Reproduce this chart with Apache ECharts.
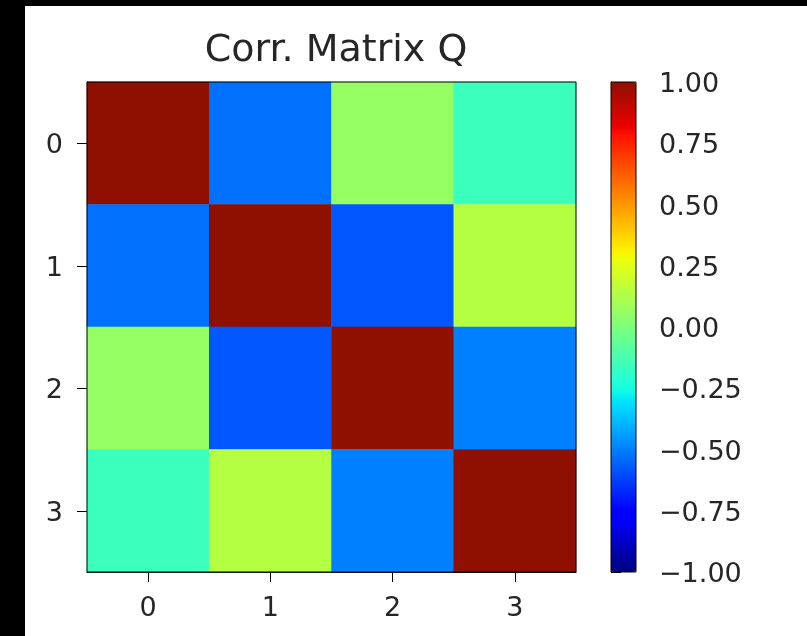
<!DOCTYPE html>
<html>
<head>
<meta charset="utf-8">
<script src="https://cdn.jsdelivr.net/npm/echarts@6/dist/echarts.min.js"></script>
<style>
html,body{margin:0;padding:0;background:#000;width:807px;height:636px;overflow:hidden;}
#chart{position:absolute;left:25px;top:6px;width:782px;height:630px;background:#fff;}
</style>
</head>
<body>
<div id="chart"></div>
<script>
// ---- data ----
const title = 'Corr. Matrix Q';
const xCategories = ['0', '1', '2', '3'];
const yCategories = ['0', '1', '2', '3'];
const row0 = [1.00, -0.53, 0.06, -0.16];
const row1 = [-0.53, 1.00, -0.58, 0.14];
const row2 = [0.06, -0.58, 1.00, -0.50];
const row3 = [-0.16, 0.14, -0.50, 1.00];
const rows = [row0, row1, row2, row3];
const colorbarMin = -1;
const colorbarMax = 1;
const colorbarStep = 0.25;

// ---- jet colormap (matplotlib segment data) ----
function interp(seg, t) {
  for (let i = 0; i < seg.length - 1; i++) {
    const a = seg[i], b = seg[i + 1];
    if (t >= a[0] && t <= b[0]) {
      return a[1] + (b[1] - a[1]) * (t - a[0]) / (b[0] - a[0]);
    }
  }
  return seg[seg.length - 1][1];
}
const jetR = [[0,0],[0.35,0],[0.66,1],[0.89,1],[1,0.56]];
const jetG = [[0,0],[0.125,0],[0.375,1],[0.64,1],[0.91,0],[1,0.06]];
const jetB = [[0,0.5],[0.11,1],[0.34,1],[0.65,0],[1,0]];
const jetColors = [];
for (let i = 0; i <= 100; i++) {
  const t = i / 100;
  const r = Math.round(interp(jetR, t) * 255);
  const g = Math.round(interp(jetG, t) * 255);
  const b = Math.round(interp(jetB, t) * 255);
  jetColors.push('rgb(' + r + ',' + g + ',' + b + ')');
}

const heatData = [];
rows.forEach((row, yi) => row.forEach((v, xi) => heatData.push([xi, yi, v])));

const textColor = '#262626';
const font = 'DejaVu Sans';
const fmt = v => '{t|' + (v < 0 ? '\u2212' : '') + Math.abs(v).toFixed(2) + '}';
const richT = { t: { fontFamily: font, fontSize: 27, color: textColor, padding: [6, 0, 0, 0] } };

const chart = echarts.init(document.getElementById('chart'));
chart.setOption({
  animation: false,
  backgroundColor: '#fff',
  title: {
    text: title,
    left: 306,
    top: 21,
    textAlign: 'center',
    textStyle: { fontFamily: font, fontSize: 38, fontWeight: 'normal', color: textColor }
  },
  grid: [
    { left: 62, top: 76, width: 489, height: 490, show: true, borderColor: '#000', borderWidth: 1, z: 10 },
    { left: 586, top: 76, width: 25, height: 490, show: true, borderColor: '#000', borderWidth: 1, z: 10 }
  ],
  xAxis: [
    {
      type: 'category', data: xCategories, gridIndex: 0, position: 'bottom',
      axisLine: { show: true, lineStyle: { color: '#000', width: 1 } },
      axisTick: { show: true, alignWithLabel: true, length: 10, lineStyle: { color: '#000' } },
      axisLabel: { fontFamily: font, fontSize: 27, color: textColor, margin: 23 },
      splitLine: { show: false }
    },
    { type: 'value', gridIndex: 1, show: false, min: 0, max: 1 }
  ],
  yAxis: [
    {
      type: 'category', data: yCategories, gridIndex: 0, inverse: true, position: 'left',
      axisLine: { show: true, lineStyle: { color: '#000', width: 1 } },
      axisTick: { show: true, alignWithLabel: true, length: 10, lineStyle: { color: '#000' } },
      axisLabel: { formatter: v => '{t|' + v + '}', rich: richT, margin: 24 },
      splitLine: { show: false }
    },
    {
      type: 'value', gridIndex: 1, position: 'right', min: colorbarMin, max: colorbarMax, interval: colorbarStep,
      axisLine: { show: true, lineStyle: { color: '#000', width: 1 } },
      axisTick: { show: true, length: 10, lineStyle: { color: '#000' } },
      axisLabel: { formatter: fmt, rich: richT, margin: 23 },
      splitLine: { show: false }
    }
  ],
  visualMap: {
    type: 'continuous',
    min: colorbarMin, max: colorbarMax,
    seriesIndex: 0,
    calculable: false,
    orient: 'vertical',
    left: 586, top: 76,
    itemWidth: 25, itemHeight: 490,
    padding: 0,
    text: null,
    showLabel: false,
    inRange: { color: jetColors }
  },
  series: [
    {
      type: 'heatmap',
      xAxisIndex: 0, yAxisIndex: 0,
      data: heatData,
      itemStyle: { borderWidth: 0 },
      emphasis: { disabled: true }
    }
  ]
});
</script>
</body>
</html>
